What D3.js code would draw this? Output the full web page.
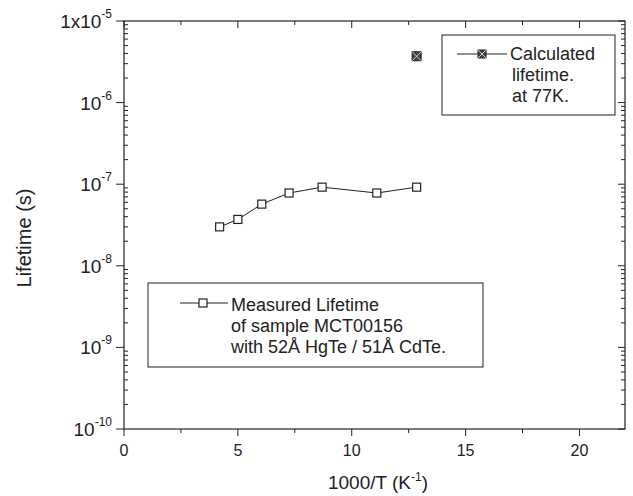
<!DOCTYPE html>
<html>
<head>
<meta charset="utf-8">
<script src="https://cdn.jsdelivr.net/npm/d3@7"></script>
<style>
  body { margin: 0; background: #fff; }
  text { font-family: "Liberation Sans", Arial, sans-serif; fill: #222; }
</style>
</head>
<body>
<div id="chart"></div>
<script>
//measured lifetime of sample MCT00156 (1000/T, seconds)
const measuredX = [4.2, 5.0, 6.05, 7.25, 8.7, 11.1, 12.85]
const measuredY = [3.0e-8, 3.7e-8, 5.7e-8, 7.8e-8, 9.2e-8, 7.8e-8, 9.2e-8]

//calculated lifetime at 77K
const calcX = [12.85]
const calcY = [3.7e-6]

//axis ticks
const xTicks = [0, 5, 10, 15, 20]
const yExps = [-10, -9, -8, -7, -6, -5]

const measuredLegend = ['Measured Lifetime', 'of sample MCT00156', 'with 52Å HgTe / 51Å CdTe.']
const calcLegend = ['Calculated', 'lifetime.', 'at 77K.']

//set the dimensions and margins of the graph
const W = 633, H = 496
const margin = {top: 21, right: 8, bottom: 67, left: 124},
  width = 625 - margin.left,
  height = 429 - margin.top

const svg = d3.select("#chart")
.append("svg")
  .attr("width", W)
  .attr("height", H)

const g = svg.append("g")
  .attr("transform", `translate(${margin.left}, ${margin.top})`)

const x = d3.scaleLinear().domain([0, 22]).range([0, width])
const y = d3.scaleLog().domain([1e-10, 1e-5]).range([height, 0])

const ink = "#222"

//frame
g.append("rect")
  .attr("width", width).attr("height", height)
  .attr("fill", "none").attr("stroke", ink).attr("stroke-width", 1.2)

//x ticks, minor every 2.5
const xMinor = d3.range(2.5, 22, 5)
xTicks.forEach(v => {
  g.append("line").attr("x1", x(v)).attr("x2", x(v)).attr("y1", height).attr("y2", height + 7).attr("stroke", ink)
  g.append("line").attr("x1", x(v)).attr("x2", x(v)).attr("y1", 0).attr("y2", 7).attr("stroke", ink)
  g.append("text").attr("x", x(v)).attr("y", height + 27)
    .attr("text-anchor", "middle").style("font-size", "16px").text(v)
})
xMinor.forEach(v => {
  g.append("line").attr("x1", x(v)).attr("x2", x(v)).attr("y1", height).attr("y2", height + 4).attr("stroke", ink)
  g.append("line").attr("x1", x(v)).attr("x2", x(v)).attr("y1", 0).attr("y2", 4).attr("stroke", ink)
})

//y ticks, log minor 2..9
yExps.forEach(e => {
  const py = y(Math.pow(10, e))
  g.append("line").attr("x1", -8).attr("x2", 0).attr("y1", py).attr("y2", py).attr("stroke", ink)
  g.append("line").attr("x1", width - 7).attr("x2", width).attr("y1", py).attr("y2", py).attr("stroke", ink)
  const t = g.append("text").attr("x", -12).attr("y", py + 7)
    .attr("text-anchor", "end").style("font-size", "19px")
  t.append("tspan").text(e == -5 ? "1x10" : "10")
  t.append("tspan").attr("dy", -10).style("font-size", "12px").text(e)
  if (e < -5) {
    d3.range(2, 10).forEach(m => {
      const my = y(m * Math.pow(10, e))
      g.append("line").attr("x1", 0).attr("x2", 4).attr("y1", my).attr("y2", my).attr("stroke", ink)
      g.append("line").attr("x1", width - 4).attr("x2", width).attr("y1", my).attr("y2", my).attr("stroke", ink)
    })
  }
})

//axis titles
svg.append("text")
  .attr("transform", `translate(31, ${238}) rotate(-90)`)
  .attr("text-anchor", "middle").style("font-size", "20px")
  .text("Lifetime (s)")

const xt = svg.append("text").attr("x", 378).attr("y", 489)
  .attr("text-anchor", "middle").style("font-size", "19px")
xt.append("tspan").text("1000/T (K")
xt.append("tspan").attr("dy", -8).style("font-size", "12px").text("-1")
xt.append("tspan").attr("dy", 8).text(")")

//measured series
const measured = measuredX.map((v, i) => ({x: v, y: measuredY[i]}))
g.append("path")
  .datum(measured)
  .attr("fill", "none").attr("stroke", ink).attr("stroke-width", 1)
  .attr("d", d3.line().x(d => x(d.x)).y(d => y(d.y)))
g.selectAll("rect.meas")
  .data(measured)
  .join("rect")
    .attr("class", "meas")
    .attr("x", d => x(d.x) - 4).attr("y", d => y(d.y) - 4)
    .attr("width", 8).attr("height", 8)
    .attr("fill", "#fff").attr("stroke", ink).attr("stroke-width", 1.2)

//calculated point: dark square with a cross
function crossBox(sel, cx, cy, s) {
  sel.append("rect").attr("x", cx - s/2).attr("y", cy - s/2).attr("width", s).attr("height", s)
    .attr("fill", "#444").attr("stroke", ink)
  sel.append("path").attr("d", `M${cx-s/2},${cy-s/2}L${cx+s/2},${cy+s/2}M${cx+s/2},${cy-s/2}L${cx-s/2},${cy+s/2}`)
    .attr("stroke", "#ccc").attr("stroke-width", 1)
}
calcX.forEach((v, i) => crossBox(g, x(v), y(calcY[i]), 9))

//legend boxes
svg.append("rect").attr("x", 442).attr("y", 35).attr("width", 173).attr("height", 80)
  .attr("fill", "none").attr("stroke", ink).attr("stroke-width", 1)
svg.append("line").attr("x1", 457).attr("x2", 507).attr("y1", 54).attr("y2", 54).attr("stroke", ink)
crossBox(svg, 482, 54, 8)
calcLegend.forEach((s, i) => {
  svg.append("text").attr("x", i == 0 ? 510 : 512).attr("y", 60 + i * 21)
    .style("font-size", "18px").text(s)
})

svg.append("rect").attr("x", 148).attr("y", 283).attr("width", 335).attr("height", 84)
  .attr("fill", "none").attr("stroke", ink).attr("stroke-width", 1)
svg.append("line").attr("x1", 180).attr("x2", 228).attr("y1", 303).attr("y2", 303).attr("stroke", ink)
svg.append("rect").attr("x", 199).attr("y", 299).attr("width", 8).attr("height", 8)
  .attr("fill", "#fff").attr("stroke", ink).attr("stroke-width", 1.2)
measuredLegend.forEach((s, i) => {
  svg.append("text").attr("x", 231).attr("y", 311 + i * 21)
    .style("font-size", "18px").text(s)
})
</script>
</body>
</html>
